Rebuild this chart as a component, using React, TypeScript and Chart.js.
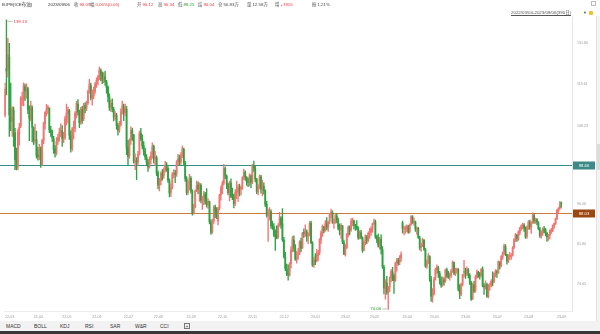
import React, { useEffect, useRef } from "react";
import { Chart, registerables } from "chart.js";
Chart.register(...registerables);

// ---- daily candles 2022/03/04 - 2023/09/06 (390 trading days) ----
const opens = [
  111.0,124.0,123.5,127.4,110.5,109.5,112.4,106.5,100.5,98.2,106.2,108.3,115.3,115.2,118.8,117.4,118.2,112.2,110.0,113.0,
  107.6,104.6,104.8,101.0,100.5,102.6,98.8,104.6,108.9,111.8,112.6,112.9,107.2,106.9,105.0,102.5,101.6,104.4,105.4,106.4,
  107.0,105.1,105.3,110.2,111.5,112.2,105.8,102.6,107.4,107.6,111.7,114.0,111.9,109.2,112.5,110.1,113.5,112.9,114.3,117.5,119.0,
  115.8,116.2,117.5,119.6,120.5,121.7,123.4,122.3,121.1,121.6,120.0,118.7,115.9,113.2,114.2,112.5,110.6,111.0,108.2,107.3,108.6,112.1,
  113.2,111.7,112.6,102.9,100.8,104.7,107.1,105.9,99.4,99.8,99.3,101.4,106.4,104.9,103.3,101.9,100.4,99.2,98.3,99.9,101.0,
  103.1,100.1,100.4,96.9,94.0,95.0,96.7,96.2,97.5,98.7,97.9,95.0,92.4,93.7,96.5,96.8,96.6,99.3,100.1,99.4,101.0,102.4,99.2,
  95.5,92.5,93.2,95.6,92.7,88.1,89.3,92.9,94.1,93.3,94.0,90.7,91.3,92.1,90.5,89.9,90.4,86.1,84.2,86.4,89.2,88.4,
  86.4,89.0,91.9,93.3,94.5,97.8,96.1,94.2,92.5,94.5,91.7,91.5,90.1,92.3,92.5,93.4,93.2,93.6,95.8,96.9,95.7,
  94.8,94.6,96.1,94.8,98.5,97.8,95.3,92.6,93.8,95.9,93.2,93.8,92.8,89.9,87.5,87.6,88.3,85.5,85.2,83.5,83.3,83.1,
  85.5,87.0,85.9,82.6,79.3,77.1,76.3,76.0,78.1,80.8,82.6,81.1,78.9,79.9,80.1,82.3,81.1,84.0,84.1,84.2,83.4,83.6,
  86.0,82.0,77.9,78.8,78.7,79.6,80.2,82.6,83.9,85.2,84.6,85.8,85.1,86.3,87.7,88.1,86.0,86.2,87.4,86.6,84.8,
  84.6,85.4,82.1,79.8,81.1,83.6,85.0,84.6,86.3,86.5,85.5,85.3,85.0,83.1,84.0,83.0,80.7,82.3,83.1,82.4,
  83.9,84.2,84.7,85.9,86.3,83.2,82.6,81.5,82.7,80.7,77.4,73.6,74.6,72.9,73.9,75.4,76.6,75.8,75.1,78.2,78.6,78.4,79.2,
  86.0,84.8,84.9,85.0,85.2,84.2,85.7,87.2,86.0,86.2,84.7,84.9,83.0,81.2,81.6,82.6,80.7,77.6,78.5,
  79.4,75.2,72.2,72.6,75.4,77.1,77.3,76.3,74.9,74.3,75.1,75.0,76.9,75.8,75.7,75.9,76.9,78.3,76.2,76.9,77.0,73.4,
  72.6,74.4,76.5,76.6,76.2,76.9,75.9,74.7,71.9,74.2,73.3,75.6,76.5,76.2,76.0,77.0,74.0,73.8,74.3,72.2,74.1,74.4,
  75.0,74.8,76.3,76.6,76.4,78.4,77.8,79.3,80.2,81.3,79.8,78.6,79.5,79.4,79.7,81.2,82.6,83.5,82.8,84.1,84.9,85.3,
  85.5,84.8,83.3,85.0,86.1,85.2,86.1,87.5,86.3,86.7,86.1,84.8,83.4,84.0,84.7,84.6,83.9,83.1,83.5,84.4,84.5,85.4,85.8,
  86.9,88.5,89.0,90.12,
];
const highs = [
  119.8,139.13,133.2,131.6,119.8,113.3,113.2,107.6,102.7,107.4,108.9,116.0,117.3,119.9,119.5,119.6,118.6,113.5,114.8,113.5,
  108.0,108.7,106.9,102.9,103.6,103.0,104.9,109.2,112.0,113.9,113.6,113.0,108.1,107.2,105.6,103.3,105.3,106.1,107.7,108.8,
  108.3,106.6,110.8,114.0,113.2,112.6,107.0,107.9,109.5,112.0,114.7,115.2,112.4,113.1,113.4,114.2,114.4,114.8,117.8,120.9,119.8,
  117.9,118.7,120.0,121.3,122.0,124.4,123.9,123.0,122.8,123.2,120.6,119.0,116.8,115.1,115.4,113.1,112.0,111.5,108.9,109.4,112.7,114.8,
  114.0,114.0,113.4,104.6,105.0,108.0,107.7,106.1,101.3,100.4,101.9,106.9,107.6,106.0,104.3,102.7,101.1,100.0,100.6,101.8,104.0,
  103.4,101.9,100.8,97.3,95.6,97.1,97.6,98.0,99.5,99.2,98.3,95.5,94.3,96.9,97.6,97.4,99.7,101.2,101.0,101.6,103.2,102.7,99.6,
  96.0,95.1,96.5,96.0,93.0,89.9,93.0,95.0,94.8,94.6,94.4,91.6,92.7,92.5,93.3,91.1,90.6,86.7,86.8,89.6,89.7,89.2,
  89.3,92.1,93.9,95.0,98.8,98.2,96.4,94.5,95.0,95.5,93.4,92.1,93.1,95.0,94.2,94.3,93.9,96.0,97.7,97.3,96.0,
  95.7,96.6,96.4,98.8,99.6,98.4,95.6,94.2,96.4,96.3,95.2,94.6,93.0,90.5,88.9,89.2,88.7,86.4,85.9,84.6,85.4,85.9,
  88.2,87.3,89.0,83.1,80.2,78.0,77.9,78.3,81.3,83.3,83.4,81.7,80.4,81.0,82.5,83.0,84.1,84.8,85.6,84.6,84.0,86.3,
  86.4,82.3,79.3,80.0,80.8,80.6,82.9,84.4,85.6,85.3,86.5,87.1,86.4,88.0,88.9,88.5,86.8,87.8,88.0,87.0,85.8,
  85.9,85.5,82.6,81.7,83.9,85.4,85.4,86.9,87.0,86.6,85.7,86.5,85.2,84.4,84.5,83.2,82.4,83.6,83.5,84.2,
  84.9,85.2,86.0,86.8,86.6,83.5,83.8,83.1,83.6,81.3,77.8,75.2,75.8,74.0,75.7,77.0,77.4,76.2,78.4,79.1,79.1,79.6,80.3,
  86.4,85.3,85.4,85.6,85.5,85.8,87.5,87.5,87.0,86.4,85.2,85.1,83.3,82.0,83.0,82.7,81.0,78.8,80.0,
  79.6,75.8,73.6,75.6,77.3,77.9,77.6,76.7,75.7,75.7,75.5,77.1,77.3,76.7,76.4,77.0,78.6,78.4,77.3,77.3,77.2,74.3,
  74.6,76.2,78.7,77.3,77.5,77.2,76.3,74.9,74.6,74.9,76.0,76.9,76.7,76.5,77.2,77.5,74.5,75.0,74.6,74.3,74.6,75.2,
  76.6,76.4,77.0,76.9,78.6,78.5,79.6,80.3,81.8,81.7,79.9,79.8,80.2,80.0,81.3,82.9,83.9,83.7,84.4,85.1,85.6,86.0,
  85.9,85.2,85.4,86.5,86.6,86.3,88.1,88.0,87.0,86.9,86.3,85.1,84.4,85.0,85.3,84.9,84.1,83.7,84.6,84.9,85.6,86.0,87.0,
  88.8,89.2,90.5,90.34,
];
const lows = [
  110.5,116.5,121.5,105.6,107.0,105.6,103.1,97.6,97.5,97.6,103.4,107.8,113.6,113.5,115.0,115.6,111.4,104.5,109.5,104.2,
  103.5,103.9,100.3,99.8,99.9,98.1,98.5,103.8,107.4,110.8,111.4,106.5,105.6,104.3,101.4,100.5,101.0,103.6,104.4,105.5,
  103.1,104.0,104.8,108.5,109.1,104.8,101.7,102.0,104.9,106.7,110.3,111.0,107.8,108.6,108.9,109.6,111.6,112.2,113.9,117.0,115.1,
  113.7,115.4,116.9,118.6,119.3,120.8,120.4,119.6,119.9,119.1,116.9,114.6,112.3,112.0,111.9,109.5,109.8,107.4,105.9,106.6,108.2,111.3,
  109.6,110.8,101.1,98.5,100.2,103.6,104.6,99.1,97.6,95.3,98.6,101.0,104.6,102.5,101.0,99.9,98.5,97.2,97.9,98.9,100.3,
  99.1,98.5,96.2,93.2,92.8,94.1,95.2,95.6,97.0,97.2,94.7,91.5,91.6,93.2,95.7,94.6,96.0,98.6,98.5,98.8,100.4,98.7,94.9,
  91.9,92.0,93.0,92.3,87.6,87.8,89.1,92.6,92.2,90.5,90.2,88.8,89.8,89.9,89.3,89.0,85.8,83.7,83.9,85.9,87.1,86.9,
  85.6,88.7,90.8,92.2,94.1,95.5,93.3,91.9,90.6,91.3,90.9,89.1,89.6,91.1,90.5,91.7,91.9,93.1,95.3,95.1,94.0,
  93.7,93.9,93.5,94.4,97.2,94.8,92.2,91.9,93.3,92.3,91.7,92.1,89.4,87.2,82.3,86.6,84.9,84.7,83.3,80.6,82.8,82.9,
  85.3,84.9,82.3,79.1,76.8,75.9,75.1,75.8,77.3,80.3,80.4,78.7,78.2,78.9,79.8,80.4,80.9,83.1,83.3,82.3,81.9,83.4,
  81.9,77.6,77.4,77.9,78.4,78.6,79.8,81.9,83.3,84.0,84.3,84.6,84.3,85.8,87.1,85.9,84.9,85.9,86.0,84.6,83.6,
  82.9,81.9,79.8,79.5,80.9,83.2,83.6,84.3,85.4,84.8,84.5,84.6,82.7,82.8,82.8,80.2,80.5,81.7,81.9,82.2,
  82.9,83.5,84.1,85.6,82.9,82.1,81.2,80.8,79.9,77.2,72.7,71.8,72.6,70.06,73.1,74.8,75.0,72.8,74.9,76.7,77.8,77.9,78.5,
  84.0,83.6,83.9,84.2,83.9,84.0,85.5,85.9,85.5,84.3,83.7,82.9,80.7,80.4,81.3,80.6,77.4,77.2,78.1,
  74.9,71.4,71.3,72.5,75.1,76.3,75.6,74.4,73.8,74.0,74.2,74.7,75.6,75.4,75.1,75.6,76.5,76.1,75.9,76.4,73.2,71.9,
  72.4,74.1,75.7,75.4,75.9,75.5,74.3,71.6,71.7,72.9,73.0,75.4,75.6,75.3,75.7,73.9,72.6,73.5,72.1,72.0,73.3,73.9,
  74.1,74.6,75.7,75.6,76.3,77.1,77.5,78.9,79.8,79.6,78.0,78.3,78.9,78.9,79.5,80.9,82.3,82.3,82.5,83.6,84.5,84.8,
  84.3,82.9,82.9,84.7,84.7,83.9,85.9,85.9,85.9,85.6,84.6,83.1,82.9,83.5,84.0,83.4,82.3,82.5,82.8,83.9,84.2,84.9,85.7,
  86.7,88.2,88.8,89.25,
];
const closes = [
  118.1,123.2,128.0,111.1,109.3,112.7,106.9,99.9,98.0,106.6,107.9,115.6,115.5,119.0,117.6,118.9,112.5,110.2,113.5,107.9,
  104.4,104.6,100.9,100.6,102.8,98.5,104.6,108.8,111.7,112.5,113.2,107.3,106.8,105.3,102.3,101.5,104.3,105.3,106.6,107.1,
  105.0,105.2,110.1,111.6,112.4,105.9,102.5,107.5,107.5,111.6,114.2,112.0,109.1,112.6,110.0,113.6,112.8,114.2,117.4,119.4,115.6,
  116.3,117.6,119.5,120.6,121.6,123.6,122.5,121.0,121.8,120.2,118.5,116.0,113.1,114.1,112.7,110.5,111.2,108.3,107.1,108.5,112.0,113.5,
  111.6,112.8,102.8,100.7,104.6,107.0,106.2,99.5,99.6,99.1,101.2,106.3,105.0,103.2,101.8,100.5,99.3,98.2,99.8,100.9,103.0,
  100.0,100.5,96.8,94.1,94.9,96.6,96.3,97.4,98.6,98.1,95.1,92.3,93.6,96.6,96.7,96.5,99.2,100.2,99.3,100.9,102.5,99.3,95.6,
  92.4,93.0,95.7,92.8,88.0,89.2,92.8,94.0,93.2,94.1,90.8,91.4,92.0,90.6,89.8,90.5,86.2,84.1,86.3,89.3,88.5,88.0,
  88.9,91.8,93.4,94.4,97.9,96.2,94.3,92.4,94.6,91.6,91.6,90.0,92.4,92.4,93.5,93.3,93.5,95.7,97.0,95.8,94.8,
  94.7,96.2,94.7,98.6,97.9,95.4,92.7,93.7,96.0,93.1,93.9,92.9,89.8,87.6,87.5,88.4,85.4,85.3,83.6,83.2,83.0,85.4,
  87.0,85.6,82.7,79.4,77.2,76.2,76.1,78.0,80.7,82.7,81.2,79.0,79.8,80.0,82.2,81.0,83.9,83.9,84.3,83.3,83.5,85.9,
  82.1,77.8,78.7,78.6,79.7,80.1,82.7,84.0,85.3,84.5,85.9,85.0,86.2,87.6,88.2,86.1,86.1,87.5,86.7,84.9,84.5,
  85.5,82.2,79.9,81.0,83.7,85.1,84.5,86.4,86.6,85.6,85.4,85.1,83.0,84.1,83.1,80.6,82.2,83.2,82.5,83.9,
  84.3,84.8,85.8,86.2,83.3,82.7,81.6,82.8,80.8,77.5,73.7,74.7,73.0,73.8,75.3,76.7,75.9,75.0,78.1,78.7,78.3,79.3,79.8,
  84.9,84.9,85.0,85.1,84.2,85.6,87.3,86.1,86.3,84.8,84.8,83.1,81.1,81.7,82.7,80.8,77.7,78.4,79.5,
  75.3,72.3,72.5,75.3,77.0,77.4,76.4,75.0,74.2,75.2,74.9,77.0,75.9,75.6,76.0,76.8,78.4,76.3,77.0,77.1,73.5,72.7,
  74.3,76.1,76.7,76.3,77.0,76.0,74.8,71.8,74.3,73.2,75.7,76.6,76.1,75.9,77.1,74.1,73.9,74.2,72.3,74.0,74.3,74.9,
  74.7,76.3,76.7,76.5,78.5,77.7,79.4,80.1,81.4,79.9,78.5,79.6,79.5,79.6,81.1,82.7,83.6,82.9,84.2,85.0,85.4,85.6,
  84.9,83.2,85.1,86.2,85.3,86.2,87.6,86.4,86.8,86.2,84.9,83.5,84.1,84.8,84.5,84.0,83.2,83.4,84.5,84.4,85.5,85.9,86.9,
  88.6,89.0,90.0,90.09,
];

// first trading day index of each month, and its label
const monthTickIndex = [0, 20, 40, 61, 83, 104, 127, 149, 170, 192, 214, 235, 255, 278, 297, 319, 341, 363, 386];
const monthLabels = ["22-03", "22-04", "22-05", "22-06", "22-07", "22-08", "22-09", "22-10", "22-11", "22-12",
  "23-01", "23-02", "23-03", "23-04", "23-05", "23-06", "23-07", "23-08", "23-09"];

// right axis tick values (log scale)
const yTickValues = [131.80, 119.61, 108.23, 90.06, 81.80, 74.45];

// horizontal reference lines
const refLineValues = [98.66, 88.03];

// header
const headerTitle = "B.IPE[ICE布油]";
const headerDate = "2023/09/06";
const headerLabels = ["收", "幅", "开", "高", "低", "结", "仓", "量", "增", "振"];
const headerValues = ["90.09", "0.06%(0.05)", "90.12", "90.34", "89.25", "90.04", "50.83万", "12.58万", "+7815", "1.21%"];
const rangeText = "2022/03/04-2023/09/06(390日)";
const tabLabels = ["MACD", "BOLL", "KDJ", "RSI", "SAR", "W&R", "CCI"];

// ---- styles ----
const UP = "#f27470";
const DOWN = "#2ea240";
const RED_TXT = "#e8383d";
const GREEN_TXT = "#2a9a2a";
const headerValueColors = [RED_TXT, RED_TXT, RED_TXT, RED_TXT, GREEN_TXT, RED_TXT, "#444", "#444", RED_TXT, "#444"];
const headerLeft = [74, 90, 137, 158, 178, 198, 218, 247, 275, 312];
const tabLeft = [6, 34, 60, 85, 110, 135, 160];
const refLineStroke = ["#2f8f8b", "#cd7a3c"];
const refLineFill = ["#3d8a87", "#9a4812"];
const FONT = '"Liberation Sans", "Noto Sans CJK SC", sans-serif';

export default function App() {
  const ref = useRef<HTMLCanvasElement | null>(null);

  useEffect(() => {
    const n = closes.length;
    const idx = Array.from({ length: n }, (_, i) => i);
    const colors = idx.map((i) => (closes[i] >= opens[i] ? UP : DOWN));
    const wick = idx.map((i) => ({ x: i, y: [Math.min(lows[i], opens[i], closes[i]), Math.max(highs[i], opens[i], closes[i])] }));
    const body = idx.map((i) => ({ x: i, y: [Math.min(opens[i], closes[i]), Math.max(opens[i], closes[i])] }));
    const maxHigh = Math.max(...highs);
    const minLow = Math.min(...lows);
    const hiIdx = highs.indexOf(maxHigh);
    const loIdx = lows.indexOf(minLow);

    const overlay = {
      id: "overlay",
      beforeDatasetsDraw(chart: any) {
        const { ctx, chartArea, scales } = chart;
        ctx.save();
        refLineValues.forEach((v, k) => {
          const y = Math.round(scales.y.getPixelForValue(v));
          ctx.fillStyle = refLineStroke[k];
          ctx.fillRect(0, y, chartArea.right, 1);
        });
        ctx.restore();
      },
      afterDatasetsDraw(chart: any) {
        const { ctx, chartArea, scales } = chart;
        ctx.save();
        // month labels under the plot
        ctx.fillStyle = "#9a9a9a";
        ctx.font = `3.6px ${FONT}`;
        ctx.textAlign = "left";
        ctx.textBaseline = "middle";
        monthTickIndex.forEach((v, k) => {
          ctx.fillText(monthLabels[k], scales.x.getPixelForValue(v), chartArea.bottom + 5.5);
        });
        // reference line labels
        refLineValues.forEach((v, k) => {
          const y = Math.round(scales.y.getPixelForValue(v));
          ctx.fillStyle = refLineFill[k];
          ctx.fillRect(chartArea.right + 1, y - 3.5, 22, 8);
          ctx.fillStyle = "#ffffff";
          ctx.font = `4.2px ${FONT}`;
          ctx.textAlign = "center";
          ctx.textBaseline = "middle";
          ctx.fillText(v.toFixed(2), chartArea.right + 12, y + 0.8);
        });
        // max marker
        const hx = scales.x.getPixelForValue(hiIdx);
        const hy = scales.y.getPixelForValue(maxHigh) + 1.5;
        ctx.strokeStyle = "#999";
        ctx.lineWidth = 0.6;
        ctx.beginPath();
        ctx.moveTo(hx + 1, hy);
        ctx.lineTo(hx + 6, hy);
        ctx.stroke();
        ctx.fillStyle = RED_TXT;
        ctx.font = `4.4px ${FONT}`;
        ctx.textAlign = "left";
        ctx.textBaseline = "middle";
        ctx.fillText(maxHigh.toFixed(2), hx + 7, hy);
        // min marker
        const lx = scales.x.getPixelForValue(loIdx);
        const ly = scales.y.getPixelForValue(minLow) - 0.5;
        ctx.beginPath();
        ctx.moveTo(lx - 1, ly);
        ctx.lineTo(lx - 6, ly);
        ctx.stroke();
        ctx.fillStyle = GREEN_TXT;
        ctx.textAlign = "right";
        ctx.fillText(minLow.toFixed(2), lx - 7, ly);
        ctx.restore();
      },
    };

    const chart = new Chart(ref.current as HTMLCanvasElement, {
      type: "bar",
      data: {
        datasets: [
          {
            data: wick as any,
            backgroundColor: colors,
            barThickness: 0.7,
            grouped: false,
          } as any,
          {
            data: body as any,
            backgroundColor: colors,
            barThickness: 1.15,
            minBarLength: 0.8,
            grouped: false,
          } as any,
        ],
      },
      options: {
        responsive: false,
        animation: false,
        devicePixelRatio: 1,
        layout: { padding: { top: 17, left: 4.3, right: 0, bottom: 0 } },
        plugins: { legend: { display: false }, tooltip: { enabled: false } },
        scales: {
          x: {
            type: "linear",
            offset: false,
            min: -0.5,
            max: 396.5,
            grid: { display: false, drawTicks: false },
            border: { display: true, color: "#eeeeee" },
            ticks: { display: false },
            afterFit: (axis: any) => {
              axis.height = 23;
            },
          },
          y: {
            type: "logarithmic",
            position: "right",
            min: 69.81,
            max: 140.1,
            grid: { display: false, drawTicks: false },
            border: { display: true, color: "#e6e6e6" },
            afterBuildTicks: (axis: any) => {
              axis.ticks = yTickValues.map((v) => ({ value: v }));
            },
            afterFit: (axis: any) => {
              axis.width = 28;
            },
            ticks: {
              padding: 5,
              color: "#9a9a9a",
              font: { size: 3.6, family: FONT },
              callback: (v: any) => Number(v).toFixed(2),
            },
          },
        },
      },
      plugins: [overlay],
    });
    return () => chart.destroy();
  }, []);

  const small: React.CSSProperties = {
    position: "absolute",
    fontFamily: FONT,
    fontSize: "4.4px",
    lineHeight: "6px",
    whiteSpace: "nowrap",
  };

  return (
    <div style={{ position: "absolute", left: 0, top: 0, width: 600, height: 334, background: "#fff", overflow: "hidden" }}>
      <canvas ref={ref} width={600} height={334} style={{ position: "absolute", left: 0, top: 0, width: 600, height: 334 }} />
      {/* header */}
      <div style={{ ...small, left: 2, top: 2, color: "#333" }}>{headerTitle}</div>
      <div style={{ ...small, left: 48, top: 2, color: "#333" }}>{headerDate}</div>
      {headerLabels.map((lab, k) => (
        <div key={lab} style={{ ...small, left: headerLeft[k], top: 2 }}>
          <span style={{ color: "#555" }}>{lab}</span>
          <span style={{ color: headerValueColors[k], marginLeft: 1 }}>{headerValues[k]}</span>
        </div>
      ))}
      <div style={{ ...small, left: 511, top: 9.5, color: "#555", textDecoration: "underline" }}>{rangeText}</div>
      <div style={{ ...small, left: 583, top: 9.5, color: "#555", fontSize: "4px" }}>▼</div>
      <div style={{ position: "absolute", left: 589, top: 11, width: 4, height: 4, background: "#f3c12c", borderRadius: 1 }} />
      <div style={{ position: "absolute", left: 591, top: 1, width: 5, height: 5, border: "0.6px solid #bbb", boxSizing: "border-box" }} />
      {/* right scroll strip */}
      <div style={{ position: "absolute", left: 596, top: 16, width: 4, height: 305, background: "#f4f4f4", borderLeft: "1px solid #e2e2e2", boxSizing: "border-box" }} />
      <div style={{ position: "absolute", left: 597, top: 144, width: 3, height: 26, background: "#dcdcdc" }} />
      {/* indicator tabs */}
      <div style={{ position: "absolute", left: 0, top: 321, width: 600, height: 10, background: "#f2f2f2" }} />
      <div style={{ position: "absolute", left: 0, top: 331, width: 600, height: 3, background: "#383838" }} />
      {tabLabels.map((t, k) => (
        <div key={t} style={{ ...small, fontSize: "5px", left: tabLeft[k], top: 323, color: "#333" }}>{t}</div>
      ))}
      <div style={{ position: "absolute", left: 184, top: 323, width: 6, height: 6, border: "0.6px solid #777", boxSizing: "border-box", fontFamily: FONT, fontSize: "5px", lineHeight: "5px", textAlign: "center", color: "#555" }}>+</div>
    </div>
  );
}
